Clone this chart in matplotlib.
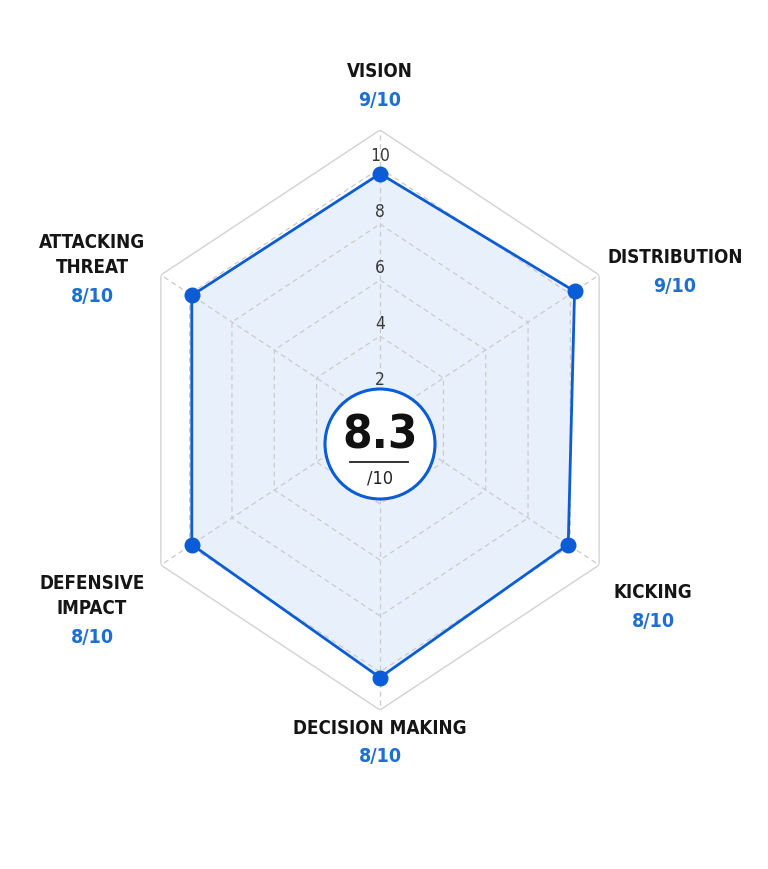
import matplotlib.pyplot as plt
import matplotlib.patches as mpatches
import matplotlib.lines as mlines
import numpy as np

# player rating radar
categories = ['VISION', 'DISTRIBUTION', 'KICKING', 'DECISION MAKING',
              'DEFENSIVE\nIMPACT', 'ATTACKING\nTHREAT']
scores = [9, 9, 8, 8, 8, 8]              # shown as "x/10"
plotted = [9.8, 10.2, 9.9, 10.2, 9.9, 9.9]  # marker positions read on the ring scale
ring_ticks = [2, 4, 6, 8, 10]
r_center = 1.0
r_outer = 11.36

BLUE = '#0b5cd5'
TXT_BLUE = '#1f6fd2'
plt.rcParams['font.family'] = ['DejaVu Sans']
plt.rcParams['font.stretch'] = 'condensed'

W, H = 768, 870
fig = plt.figure(figsize=(W / 100, H / 100), dpi=100)
fig.patch.set_facecolor('white')

cx, cy = 380, 421
rx, ry = 253, 290
ax = fig.add_axes([(cx - rx) / W, 1 - (cy + ry) / H, 2 * rx / W, 2 * ry / H],
                  projection='polar')
ax.set_aspect('auto')
ax.set_theta_zero_location('N')
ax.set_theta_direction(-1)
ax.set_ylim(r_center, r_outer)
ax.grid(False)
ax.set_xticks([])
ax.set_yticks([])
ax.spines['polar'].set_visible(False)
ax.patch.set_alpha(0)

n = len(categories)
theta = np.linspace(0, 2 * np.pi, n, endpoint=False)
theta_c = np.append(theta, theta[0])

# grid
for t in ring_ticks:
    ax.plot(theta_c, [t] * (n + 1), color='#cbcbcb', lw=0.9, ls=(0, (4, 3)), zorder=2)
ax.plot(theta_c, [r_outer] * (n + 1), color='#d2d2d2', lw=1.0, zorder=2)
for th in theta:
    ax.plot([th, th], [r_center, r_outer], color='#cbcbcb', lw=0.9, ls=(0, (4, 3)), zorder=2)

# data polygon
vals = np.append(plotted, plotted[0])
ax.fill(theta_c, vals, color='#e6effc', alpha=0.9, zorder=1)
ax.plot(theta_c, vals, color=BLUE, lw=2.0, zorder=4)
ax.plot(theta, plotted, 'o', color=BLUE, ms=10.5, zorder=5)

for t in ring_ticks:
    ax.annotate(str(t), xy=(0, t), xytext=(0, 3), textcoords='offset points',
                ha='center', va='bottom', fontsize=12.5, color='#3a3a3a', zorder=6)

# category labels
label_pos = [(380, 72), (675, 258), (653, 593), (380, 728), (92, 596), (92, 255)]
for name, s, (px, py) in zip(categories, scores, label_pos):
    nlines = name.count('\n') + 1
    fig.text(px / W, 1 - py / H, name, ha='center', va='center', fontsize=13.5,
             fontweight='bold', color='#151515', linespacing=1.45)
    sy = py + 29 if nlines == 1 else py + 42
    fig.text(px / W, 1 - sy / H, f'{s}/10', ha='center', va='center', fontsize=14,
             fontweight='bold', color=TXT_BLUE)

# centre badge
ccx, ccy, cr = 380, 445, 55
circ = mpatches.Ellipse((ccx / W, 1 - ccy / H), 2 * cr / W, 2 * cr / H,
                        transform=fig.transFigure, facecolor='white',
                        edgecolor=BLUE, lw=2.2, zorder=10)
fig.patches.append(circ)
avg = np.mean(scores)
fig.text(ccx / W, 1 - 436 / H, f'{avg:.1f}', ha='center', va='center',
         fontsize=34, fontweight='bold', color='#111111', zorder=11)
fig.add_artist(mlines.Line2D([350 / W, 408 / W], [1 - 463 / H, 1 - 463 / H],
                             transform=fig.transFigure, color='#222222', lw=1.3,
                             zorder=11))
fig.text(ccx / W, 1 - 479 / H, '/10', ha='center', va='center', fontsize=13,
         color='#222222', zorder=11)

fig.savefig('out.png', dpi=100, facecolor='white')
